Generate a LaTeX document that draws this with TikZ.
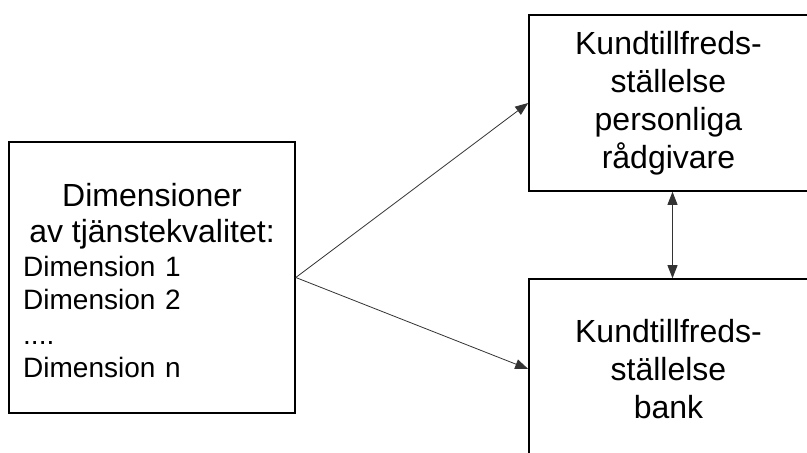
\documentclass[tikz,border=0pt]{standalone}
\usepackage{fontspec}
\setmainfont{Liberation Sans}
\usepackage{tikz}
\usetikzlibrary{arrows.meta,positioning}

\tikzset{
  boxnode/.style={draw=black, line width=1.6pt, rectangle, inner sep=0pt},
  bigtext/.style={font=\fontsize{32}{38}\selectfont, inner sep=0pt},
  smalltext/.style={font=\fontsize{28}{33}\selectfont, inner sep=0pt},
  tip/.style={Triangle[length=13pt,width=10pt]},
  conn/.style={draw=black!80, line width=0.8pt, -{Triangle[length=13pt,width=10pt]}},
}

\begin{document}
\begin{tikzpicture}[x=1pt, y=-1pt]
  \clip (0,0) rectangle (807,453);
  \fill[white] (0,0) rectangle (807,453);

  % left box
  \node[boxnode, minimum width=286pt, minimum height=271pt] (dims) at (152,277.5) {};
  \node[bigtext, anchor=base] (dimtitle) at (152,206) {Dimensioner};
  \node[bigtext, anchor=base] (dimsub) at (152,242) {av tjänstekvalitet:};
  \node[smalltext, anchor=base west] (dim1) at (23,276) {Dimension\hspace{2pt} 1};
  \node[smalltext, anchor=base west] (dim2) at (23,309) {Dimension\hspace{2pt} 2};
  \node[smalltext, anchor=base west] (dimdots) at (23,344) {....};
  \node[smalltext, anchor=base west] (dimn) at (23,377) {Dimension\hspace{2pt} n};

  % right boxes
  \node[boxnode, bigtext, align=center, minimum width=279pt, minimum height=176pt]
    (rgiv) at (668.5,103) {Kundtillfreds-\\ställelse\\personliga\\rådgivare};
  \node[boxnode, bigtext, align=center, minimum width=279pt, minimum height=180pt]
    (bank) at (668.5,369) {Kundtillfreds-\\ställelse\\bank};

  % arrows
  \draw[conn] (dims.east) -- (rgiv.west);
  \draw[conn] (dims.east) -- (bank.west);
  \draw[conn, {Triangle[length=13pt,width=10pt]}-{Triangle[length=13pt,width=10pt]}]
    ([xshift=4pt]rgiv.south) -- ([xshift=4pt]bank.north);
\end{tikzpicture}
\end{document}
